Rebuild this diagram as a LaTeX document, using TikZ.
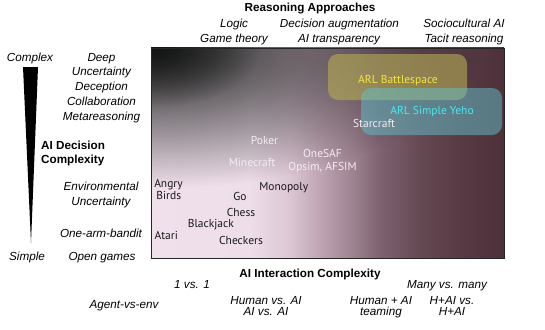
\documentclass[tikz,border=0pt]{standalone}
\usepackage{fontspec}
\setmainfont{Liberation Sans}
\newfontfamily\gamefont{PT Sans}
\usetikzlibrary{fadings}
\tikzfading[name=radfade, inner color=transparent!0, outer color=transparent!100]
\definecolor{cA}{HTML}{F0E0EC}
\definecolor{cB}{HTML}{EEDEEA}
\definecolor{cC}{HTML}{DCC6D4}
\definecolor{cD}{HTML}{BFA5B4}
\definecolor{cE}{HTML}{A08593}
\definecolor{cF}{HTML}{7E6270}
\definecolor{cG}{HTML}{644852}
\definecolor{cH}{HTML}{573A44}
\definecolor{cI}{HTML}{4D3039}
\definecolor{blk}{HTML}{101311}
\definecolor{battle}{HTML}{B6AC55}
\definecolor{yeho}{HTML}{63C1CB}
\definecolor{battletxt}{HTML}{F2E640}
\definecolor{yehotxt}{HTML}{4EE8F0}
\definecolor{lighttxt}{HTML}{F4ECF2}
\pgfdeclarehorizontalshading{bgshade}{100bp}{color(0bp)=(cA); color(25bp)=(cA); color(39bp)=(cB); color(44.7bp)=(cC); color(48.9bp)=(cD); color(53.2bp)=(cE); color(57.4bp)=(cF); color(63.1bp)=(cG); color(68.8bp)=(cH); color(75bp)=(cI); color(100bp)=(cI)}
\tikzset{
  lab/.style={font=\fontsize{11.7}{14}\selectfont\itshape, inner sep=0pt, anchor=base},
  hd/.style={font=\fontsize{11.7}{14}\selectfont\bfseries, inner sep=0pt, anchor=base},
  gm/.style={font=\gamefont\fontsize{11.5}{14}\selectfont, inner sep=0pt, anchor=base, text=black!90},
  gml/.style={gm, text=lighttxt},
  arlbox/.style={rounded corners=10pt, draw=none},
}
\begin{document}
\begin{tikzpicture}[x=1pt, y=-1pt]
\useasboundingbox (0,0) rectangle (545,329);
% plot area
\coordinate (pTL) at (151,48);
\coordinate (pBR) at (504,258);
\begin{scope}
  \clip (pTL) rectangle (pBR);
  \shade[shading=bgshade] (pTL) rectangle (pBR);
  \fill[blk, path fading=radfade, fill opacity=0.95] (pTL) ellipse [x radius=330pt, y radius=140pt];
  \fill[blk, path fading=radfade, fill opacity=0.8] (pTL) ellipse [x radius=110pt, y radius=60pt];
\end{scope}
\draw[black!85, line width=0.8pt] (pTL) rectangle (pBR);
% ARL boxes
\fill[arlbox, battle, fill opacity=0.6] (328,54) rectangle (467,100);
\fill[arlbox, yeho, fill opacity=0.5] (361,88) rectangle (502,135);
\node[gm, text=battletxt] (bs) at (398,83) {ARL Battlespace};
\node[gm, text=yehotxt] (ye) at (432,114) {ARL Simple Yeho};
% games
\node[gml] (starcraft) at (374,127) {Starcraft};
\node[gml] (poker) at (264.5,144.5) {Poker};
\node[gml] (onesaf) at (322.5,157) {OneSAF};
\node[gml] (opsim) at (322.5,170.5) {Opsim, AFSIM};
\node[gml] (minecraft) at (252,166) {Minecraft};
\node[gm] (angry) at (168.5,187) {Angry};
\node[gm] (birds) at (168.8,199) {Birds};
\node[gm] (monopoly) at (283.7,190.5) {Monopoly};
\node[gm] (go) at (240,200.5) {Go};
\node[gm] (chess) at (241,216) {Chess};
\node[gm] (blackjack) at (210.8,227.5) {Blackjack};
\node[gm] (atari) at (166.3,239.5) {Atari};
\node[gm] (checkers) at (241,244) {Checkers};
% top labels
\node[hd] (ra) at (310,12) {Reasoning Approaches};
\node[lab] (logic) at (234,28) {Logic};
\node[lab] (gt) at (234,43) {Game theory};
\node[lab] (da) at (339.5,28) {Decision augmentation};
\node[lab] (at) at (339,43) {AI transparency};
\node[lab] (sa) at (464,28) {Sociocultural AI};
\node[lab] (tr) at (464,43) {Tacit reasoning};
% left labels
\fill[black] (23,67) -- (38,67) -- (31,243) -- cycle;
\node[lab] (complex) at (30,61) {Complex};
\node[lab] (deep) at (101.5,61) {Deep};
\node[lab] (unc1) at (101.5,75.5) {Uncertainty};
\node[lab] (dec) at (101.5,90) {Deception};
\node[lab] (col) at (101.5,105) {Collaboration};
\node[lab] (meta) at (101.5,120) {Metareasoning};
\node[hd, anchor=base west] (aid1) at (41,149) {AI Decision};
\node[hd, anchor=base west] (aid2) at (41,163) {Complexity};
\node[lab] (env) at (101,190) {Environmental};
\node[lab] (unc2) at (101,205) {Uncertainty};
\node[lab] (oab) at (101,237) {One-arm-bandit};
\node[lab] (simple) at (27,260) {Simple};
\node[lab] (og) at (102,260) {Open games};
% bottom labels
\node[hd] (aic) at (310,277) {AI Interaction Complexity};
\node[lab] (ovo) at (192,288) {1 vs. 1};
\node[lab] (mvm) at (447,288) {Many vs. many};
\node[lab] (ave) at (124,308) {Agent-vs-env};
\node[lab] (hva) at (266,304) {Human vs. AI};
\node[lab] (ava) at (266,315) {AI vs. AI};
\node[lab] (hpa) at (381,304) {Human + AI};
\node[lab] (team) at (381,315) {teaming};
\node[lab] (hh1) at (452,304) {H+AI vs.};
\node[lab] (hh2) at (452,315) {H+AI};
\end{tikzpicture}
\end{document}
